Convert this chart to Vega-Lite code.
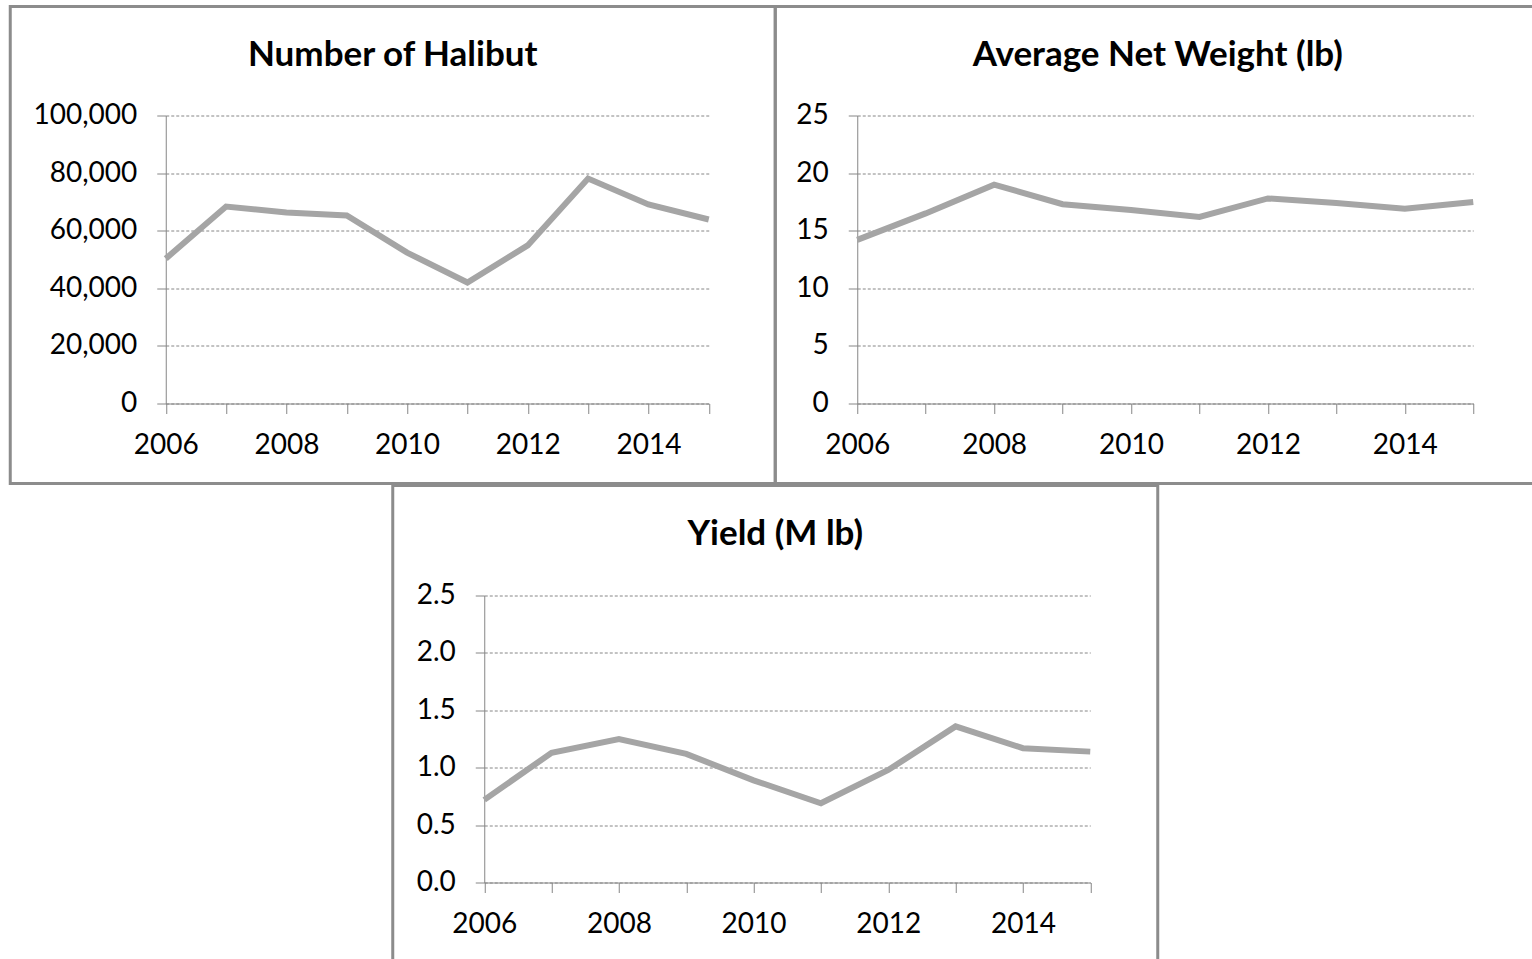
{
  "$schema": "https://vega.github.io/schema/vega-lite/v6.json",
  "padding": {"left": 8, "top": 4.5, "right": 0, "bottom": 0},
  "background": "#ffffff",
  "datasets": {
    "halibut": [
      {"year": 2006, "count": 50300, "weight": 14.2, "yield": 0.72},
      {"year": 2007, "count": 68400, "weight": 16.5, "yield": 1.13},
      {"year": 2008, "count": 66300, "weight": 19.0, "yield": 1.25},
      {"year": 2009, "count": 65300, "weight": 17.3, "yield": 1.12},
      {"year": 2010, "count": 52400, "weight": 16.8, "yield": 0.89},
      {"year": 2011, "count": 42000, "weight": 16.2, "yield": 0.69},
      {"year": 2012, "count": 54900, "weight": 17.8, "yield": 0.98},
      {"year": 2013, "count": 78100, "weight": 17.4, "yield": 1.36},
      {"year": 2014, "count": 69100, "weight": 16.9, "yield": 1.17},
      {"year": 2015, "count": 63900, "weight": 17.5, "yield": 1.14}
    ]
  },
  "config": {
    "font": "Lato",
    "view": {"stroke": "#8c8c8c", "strokeWidth": 3},
    "axis": {
      "labelFont": "Lato",
      "labelFontSize": 28,
      "labelColor": "#000000",
      "domainColor": "#868686",
      "tickColor": "#868686",
      "labelFlush": false,
      "labelOverlap": false,
      "labelBound": false,
      "title": null
    },
    "title": {"font": "Lato", "fontSize": 35, "fontWeight": "bold", "color": "#000000", "anchor": "middle", "baseline": "alphabetic"},
    "line": {"color": "#a5a5a5", "strokeWidth": 6}
  },
  "spacing": -5,
  "center": true,
  "vconcat": [
    {
      "spacing": 0,
      "bounds": "flush",
      "hconcat": [
        {
          "width": 765,
          "height": 477,
          "title": {"text": "Number of Halibut", "offset": -66},
          "data": {"name": "halibut"},
          "mark": {"type": "line"},
          "encoding": {
            "x": {"field": "year", "type": "quantitative",
              "scale": {"domain": [2006, 2015], "range": [155.5, 698.5], "nice": false, "zero": false},
              "axis": {"values": [2006, 2007, 2008, 2009, 2010, 2011, 2012, 2013, 2014, 2015], "format": "d",
                "labelExpr": "datum.value % 2 == 0 ? datum.label : ''", "offset": -80, "tickSize": 10, "labelPadding": 18, "grid": false}},
            "y": {"field": "count", "type": "quantitative",
              "scale": {"domain": [0, 100000], "range": [397, 109], "nice": false},
              "axis": {"values": [0, 20000, 40000, 60000, 80000, 100000], "format": ",d", "offset": -155.5, "tickSize": 9, "labelPadding": 20,
                "grid": true, "gridDash": [3, 2], "gridColor": "#868686"}}
          }
        },
        {
          "width": 765,
          "height": 477,
          "title": {"text": "Average Net Weight (lb)", "offset": -66},
          "data": {"name": "halibut"},
          "mark": {"type": "line"},
          "encoding": {
            "x": {"field": "year", "type": "quantitative",
              "scale": {"domain": [2006, 2015], "range": [82, 698], "nice": false, "zero": false},
              "axis": {"values": [2006, 2007, 2008, 2009, 2010, 2011, 2012, 2013, 2014, 2015], "format": "d",
                "labelExpr": "datum.value % 2 == 0 ? datum.label : ''", "offset": -80, "tickSize": 10, "labelPadding": 18, "grid": false}},
            "y": {"field": "weight", "type": "quantitative",
              "scale": {"domain": [0, 25], "range": [397, 109], "nice": false},
              "axis": {"values": [0, 5, 10, 15, 20, 25], "format": "d", "offset": -82, "tickSize": 9, "labelPadding": 20,
                "grid": true, "gridDash": [3, 2], "gridColor": "#868686"}}
          }
        }
      ]
    },
    {
      "width": 765,
      "height": 477,
      "title": {"text": "Yield (M lb)", "offset": -66},
      "data": {"name": "halibut"},
      "mark": {"type": "line"},
      "encoding": {
        "x": {"field": "year", "type": "quantitative",
          "scale": {"domain": [2006, 2015], "range": [91.5, 697.5], "nice": false, "zero": false},
          "axis": {"values": [2006, 2007, 2008, 2009, 2010, 2011, 2012, 2013, 2014, 2015], "format": "d",
            "labelExpr": "datum.value % 2 == 0 ? datum.label : ''", "offset": -80, "tickSize": 10, "labelPadding": 18, "grid": false}},
        "y": {"field": "yield", "type": "quantitative",
          "scale": {"domain": [0, 2.5], "range": [397, 110], "nice": false},
          "axis": {"values": [0, 0.5, 1, 1.5, 2, 2.5], "format": ".1f", "offset": -91.5, "tickSize": 9, "labelPadding": 20,
            "grid": true, "gridDash": [3, 2], "gridColor": "#868686"}}
      }
    }
  ]
}
